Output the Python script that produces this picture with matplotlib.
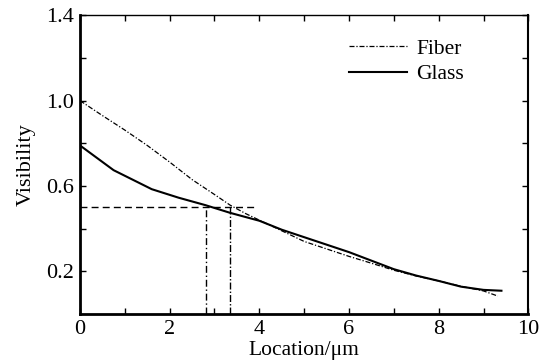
import matplotlib
matplotlib.use("Agg")
import matplotlib.pyplot as plt

fiber_x = [0, 0.5, 1, 1.5, 2, 2.5, 3, 3.35, 3.7, 4.0, 4.5, 5, 5.5, 6, 6.5, 7, 7.5, 8, 8.5, 9, 9.32]
fiber_y = [1.0, 0.93, 0.862, 0.79, 0.712, 0.63, 0.56, 0.51, 0.47, 0.44, 0.39, 0.34, 0.305, 0.27, 0.238, 0.205, 0.178, 0.155, 0.13, 0.108, 0.084]

glass_x = [0, 0.75, 1.6, 2.2, 2.8, 3.35, 4.0, 4.5, 5.0, 5.5, 6.0, 6.5, 7.0, 7.5, 8.0, 8.5, 9.0, 9.4]
glass_y = [0.79, 0.674, 0.585, 0.545, 0.51, 0.474, 0.437, 0.395, 0.36, 0.325, 0.29, 0.25, 0.21, 0.18, 0.155, 0.128, 0.113, 0.109]

ref_level = 0.5
ref_x_end = 3.95
glass_cross = 2.8
fiber_cross = 3.35

xticks = [0, 1, 2, 3, 4, 5, 6, 7, 8, 9, 10]
xticklabels = ["0", "", "2", "", "4", "", "6", "", "8", "", "10"]
yticks = [0.2, 0.4, 0.6, 0.8, 1.0, 1.2, 1.4]
yticklabels = ["0.2", "", "0.6", "", "1.0", "", "1.4"]

plt.rcParams['font.family'] = ['Liberation Serif', 'DejaVu Serif']

fig = plt.figure(figsize=(5.43, 3.64), dpi=100)
ax = fig.add_axes([0.1473, 0.1374, 0.973 - 0.1473, 0.958 - 0.1374])

ax.plot(fiber_x, fiber_y, color='black', lw=0.9, linestyle=(0, (4, 1.5, 1, 1.5)), label='Fiber')
ax.plot(glass_x, glass_y, color='black', lw=1.5, linestyle='-', label='Glass')

ax.plot([0, ref_x_end], [ref_level, ref_level], color='black', lw=1.0, linestyle=(0, (5, 3)))
ax.plot([glass_cross, glass_cross], [0, ref_level], color='black', lw=1.0, linestyle=(0, (5, 2, 1, 2)))
ax.plot([fiber_cross, fiber_cross], [0, ref_level], color='black', lw=1.0, linestyle=(0, (5, 1.5, 1, 1.5)))

ax.set_xlim(0, 10)
ax.set_ylim(0, 1.4)
ax.set_xticks(xticks)
ax.set_xticklabels(xticklabels)
ax.set_yticks(yticks)
ax.set_yticklabels(yticklabels)
ax.tick_params(direction='in', length=4, width=1, top=True, right=True, labelsize=16, pad=4)

ax.spines['left'].set_linewidth(2)
ax.spines['bottom'].set_linewidth(2)
ax.spines['right'].set_linewidth(1.5)
ax.spines['top'].set_linewidth(1.0)

ax.set_xlabel('Location/μm', fontsize=15.5, labelpad=1.5)
ax.set_ylabel('Visibility', fontsize=16, labelpad=8)

leg = ax.legend(loc='upper left', bbox_to_anchor=(0.58, 0.95), frameon=False, fontsize=15.5,
                handlelength=2.7, handletextpad=0.45, labelspacing=0.25, borderaxespad=0)

fig.savefig('out.png', dpi=100)
